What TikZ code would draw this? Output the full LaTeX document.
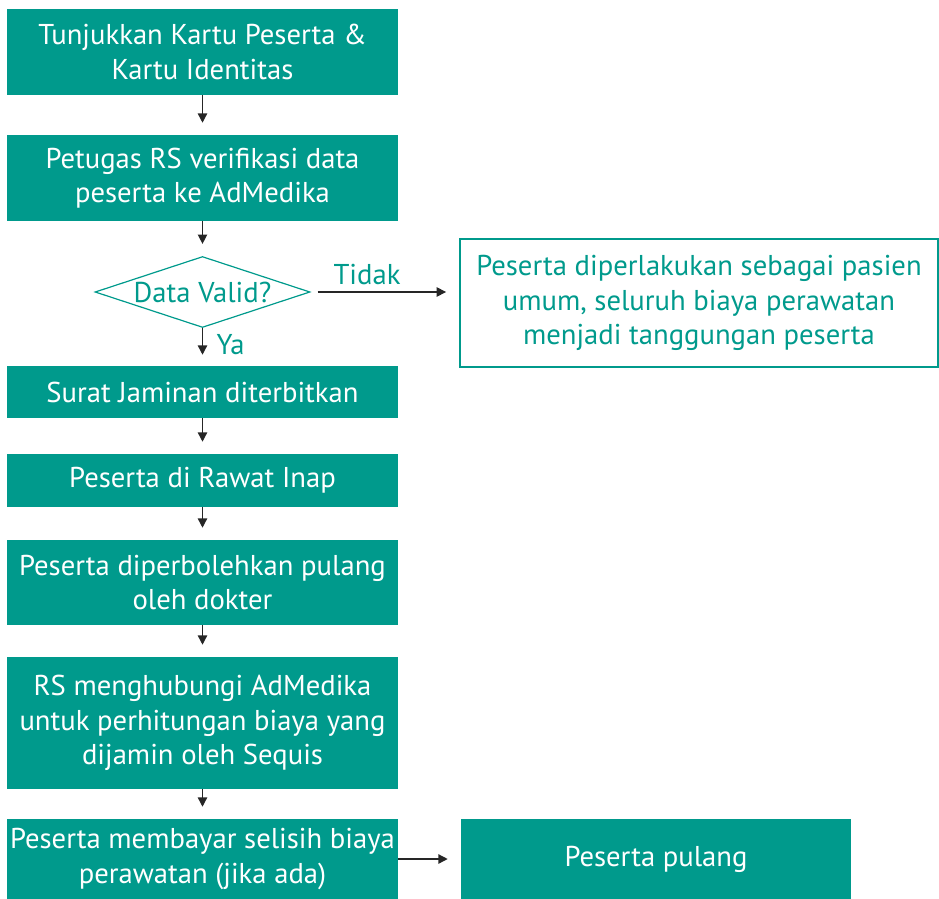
\documentclass[tikz,border=0pt]{standalone}
\usepackage{fontspec}
\setmainfont{PT Sans}
\usetikzlibrary{shapes.geometric,arrows.meta}
\definecolor{teal1}{HTML}{009A8C}
\begin{document}
\begin{tikzpicture}[x=0.75pt,y=-0.75pt,
  font=\fontsize{21.5}{26}\selectfont,
  fillbox/.style={fill=teal1,text=white,align=center,inner sep=0pt,minimum width=391*0.75pt},
  outbox/.style={draw=teal1,line width=1.4pt,text=teal1,align=center,inner sep=0pt},
  decision/.style={diamond,draw=teal1,line width=0.9pt,text=teal1,inner sep=0pt,aspect=3.03,minimum width=215*0.75pt,minimum height=71*0.75pt},
  arr/.style={-{Triangle[length=7pt,width=7pt]},line width=1pt,black!85},
  lbl/.style={text=teal1,inner sep=0pt}]
\useasboundingbox (0,0) rectangle (939,899);
\node[fillbox,minimum height=86*0.75pt] (b1) at (202.5,52) {Tunjukkan Kartu Peserta \&\\Kartu Identitas};
\node[fillbox,minimum height=86*0.75pt] (b2) at (202.5,178) {Petugas RS verifikasi data\\peserta ke AdMedika};
\node[decision] (d) at (202.5,292) {Data Valid?};
\node[outbox,minimum width=478*0.75pt,minimum height=128*0.75pt] (no) at (699,303) {Peserta diperlakukan sebagai pasien\\umum, seluruh biaya perawatan\\menjadi tanggungan peserta};
\node[fillbox,minimum height=52*0.75pt] (b3) at (202.5,392) {Surat Jaminan diterbitkan};
\node[fillbox,minimum height=53*0.75pt] (b4) at (202.5,480.5) {Peserta di Rawat Inap};
\node[fillbox,minimum height=85*0.75pt] (b5) at (202.5,582.5) {Peserta diperbolehkan pulang\\oleh dokter};
\node[fillbox,minimum height=132*0.75pt] (b6) at (202.5,723) {RS menghubungi AdMedika\\untuk perhitungan biaya yang\\dijamin oleh Sequis};
\node[fillbox,minimum height=80*0.75pt] (b7) at (202.5,859) {Peserta membayar selisih biaya\\perawatan (jika ada)};
\node[fillbox,minimum width=390*0.75pt,minimum height=80*0.75pt] (b8) at (656,859) {Peserta pulang};
\draw[arr,shorten >=12*0.75pt] (b1) -- (b2);
\draw[arr,shorten >=12*0.75pt] (b2) -- (d);
\draw[arr,shorten >=11*0.75pt] (d) -- node[lbl,right=10pt,pos=0.45] {Ya} (b3);
\draw[arr,shorten <=7*0.75pt,shorten >=13*0.75pt] (d.east) -- node[lbl,above=5pt,pos=0.38] {Tidak} (d.east -| no.west);
\draw[arr,shorten >=12*0.75pt] (b3) -- (b4);
\draw[arr,shorten >=12*0.75pt] (b4) -- (b5);
\draw[arr,shorten >=12*0.75pt] (b5) -- (b6);
\draw[arr,shorten >=12*0.75pt] (b6) -- (b7);
\draw[arr,shorten >=13*0.75pt] (b7) -- (b8);
\end{tikzpicture}
\end{document}
